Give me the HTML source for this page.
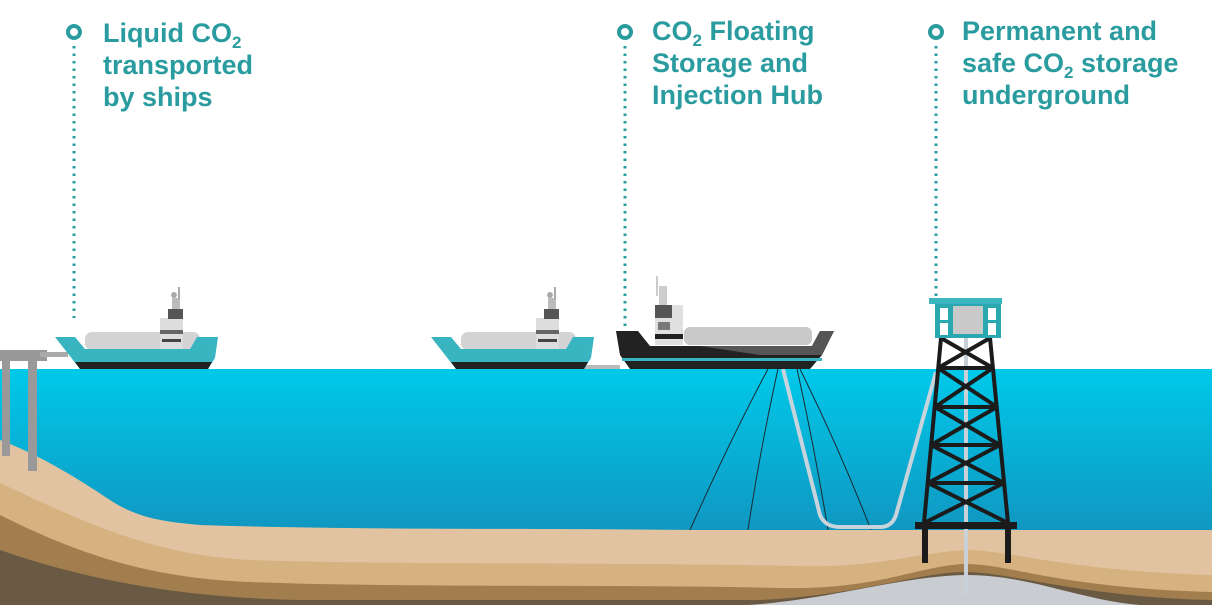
<!DOCTYPE html>
<html><head><meta charset="utf-8"><style>
html,body{margin:0;padding:0;background:#fff;}
svg{display:block}
text{font-family:"Liberation Sans",sans-serif;font-weight:bold;fill:#2a9ca0;font-size:27px}
</style></head><body>
<svg width="1212" height="605" viewBox="0 0 1212 605" xmlns="http://www.w3.org/2000/svg">
<defs>
<linearGradient id="w" x1="0" y1="0" x2="0" y2="1">
<stop offset="0" stop-color="#00c9ea"/><stop offset="1" stop-color="#1780ae"/>
</linearGradient>
</defs>
<rect x="0" y="369" width="1212" height="236" fill="url(#w)"/>
<g fill="none" stroke="#2a9ca0">
<circle cx="74" cy="32" r="6" stroke-width="4"/>
<circle cx="625" cy="32" r="6" stroke-width="4"/>
<circle cx="936" cy="32" r="6" stroke-width="4"/>
<line x1="74" y1="46" x2="74" y2="318" stroke-width="3" stroke-dasharray="2.5 5"/>
<line x1="625" y1="46" x2="625" y2="328" stroke-width="3" stroke-dasharray="2.5 5"/>
<line x1="936" y1="46" x2="936" y2="296" stroke-width="3" stroke-dasharray="2.5 5"/>
</g>
<text x="103" y="42">Liquid CO<tspan font-size="17" dy="6">2</tspan></text>
<text x="103" y="74">transported</text>
<text x="103" y="106">by ships</text>
<text x="652" y="40">CO<tspan font-size="17" dy="6">2</tspan><tspan dy="-6"> Floating</tspan></text>
<text x="652" y="72">Storage and</text>
<text x="652" y="104">Injection Hub</text>
<text x="962" y="40">Permanent and</text>
<text x="962" y="72">safe CO<tspan font-size="17" dy="6">2</tspan><tspan dy="-6"> storage</tspan></text>
<text x="962" y="104">underground</text>

<path d="M0,440 C40,455 80,480 110,500 C140,520 170,522 200,525 C350,530 500,528 700,530 L1212,530 L1212,605 L0,605Z" fill="#e1c3a1"/>
<path d="M0,483 C80,520 150,555 250,560 C400,565 600,562 800,566 C880,568 920,552 966,550 C1010,550 1060,570 1212,575 L1212,605 L0,605Z" fill="#d5b27f"/>
<path d="M0,515 C80,555 150,578 250,582 C400,588 600,584 780,588 C880,590 920,565 966,564 C1010,564 1060,588 1212,592 L1212,605 L0,605Z" fill="#a27e4e"/>
<path d="M0,550 C100,585 200,598 300,600 L760,600 C860,595 920,572 966,572 C1010,572 1080,597 1212,600 L1212,605 L0,605Z" fill="#6a5a44"/>
<path d="M748,605 C830,600 900,576 966,575 C1030,575 1080,600 1140,605Z" fill="#c9ccd0"/>

<g fill="#999">
<rect x="0" y="350" width="47" height="11"/>
<rect x="2" y="361" width="8" height="95"/>
<rect x="28" y="361" width="9" height="110"/>
<rect x="40" y="352" width="28" height="5" fill="#aaa"/>
</g>

<g stroke="#1a2a33" stroke-width="1" fill="none">
<path d="M768,369 Q730,440 690,530"/>
<path d="M778,369 Q760,450 748,530"/>
<path d="M797,369 Q815,450 828,530"/>
<path d="M800,369 Q840,450 871,530"/>
</g>
<path d="M783,369 L820,515 Q825,527 840,527 L880,527 Q892,527 896,515 L936,372" stroke="#c8d4dc" stroke-width="4" fill="none"/>
<path d="M578,367 L620,367" stroke="#bbb" stroke-width="4"/>

<g id="s1">
<rect x="85" y="332" width="115" height="18" rx="7" fill="#d3d3d3"/>
<path d="M55,337 L75,337 L85,349 L190,349 L197,337 L218,337 L215,358 L208,369 L80,369 Z" fill="#38b5c0"/>
<path d="M75,362 L212,362 L208,369 L80,369Z" fill="#222"/>
<rect x="160" y="318" width="23" height="31" fill="#ddd"/>
<rect x="168" y="309" width="15" height="10" fill="#555"/>
<rect x="160" y="330" width="23" height="4" fill="#666"/>
<rect x="172" y="298" width="8" height="11" fill="#bbb"/>
<rect x="178" y="287" width="2" height="12" fill="#aaa"/>
<circle cx="174" cy="295" r="3" fill="#aaa"/>
<rect x="162" y="339" width="19" height="3" fill="#444"/>
</g>
<use href="#s1" transform="translate(376,0)"/>

<rect x="684" y="327" width="128" height="18" rx="6" fill="#c9c9c9"/>
<path d="M616,331 L638,331 L650,346 L812,346 L820,331 L834,331 L822,355 L810,369 L630,369 L620,355Z" fill="#222"/>
<path d="M700,346 L812,346 L820,331 L834,331 L822,355 L760,355 Z" fill="#555"/>
<rect x="622" y="358" width="200" height="3" fill="#38b5c0"/>
<rect x="655" y="305" width="28" height="40" fill="#e0e0e0"/>
<rect x="655" y="305" width="17" height="13" fill="#555"/>
<rect x="655" y="334" width="28" height="5" fill="#222"/>
<rect x="658" y="322" width="12" height="8" fill="#333" opacity=".6"/>
<rect x="659" y="286" width="8" height="19" fill="#ccc"/>
<rect x="656" y="276" width="2" height="20" fill="#ccc"/>

<rect x="964" y="338" width="4" height="257" fill="#c8d0d8"/>
<g stroke="#1b1b1b" stroke-width="4" fill="none">
<path d="M941,338 L924,523 M990,338 L1008,523"/>
<path d="M938,368 L993,368 M935,407 L997,407 M931,445 L1000,445 M928,483 L1004,483"/>
<path d="M941,338 L993,368 M990,338 L938,368 M938,368 L997,407 M993,368 L935,407 M935,407 L1000,445 M997,407 L931,445 M931,445 L1004,483 M1000,445 L928,483 M928,483 L1008,523 M1004,483 L924,523"/>
</g>
<rect x="915" y="522" width="102" height="7" fill="#1b1b1b"/>
<rect x="922" y="529" width="6" height="34" fill="#1b1b1b"/>
<rect x="1005" y="529" width="6" height="34" fill="#1b1b1b"/>
<rect x="935" y="302" width="66" height="36" fill="#2aa8b0"/>
<rect x="929" y="298" width="73" height="6" fill="#3bb6bf"/>
<rect x="940" y="308" width="8" height="12" fill="#fff"/>
<rect x="988" y="308" width="8" height="12" fill="#fff"/>
<rect x="940" y="323" width="8" height="12" fill="#fff"/>
<rect x="988" y="323" width="8" height="12" fill="#fff"/>
<rect x="953" y="306" width="30" height="28" fill="#c9c9c9"/>
</svg>
</body></html>
